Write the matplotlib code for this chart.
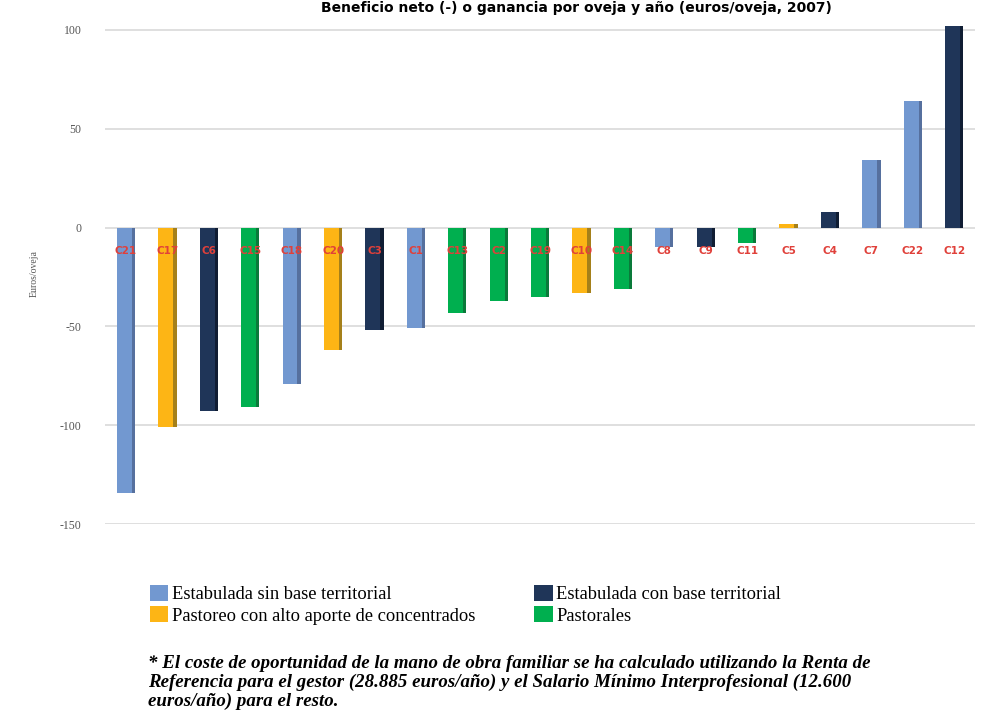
import numpy as np
import matplotlib
matplotlib.use("Agg")
import matplotlib.pyplot as plt
from matplotlib.patches import Patch

# granjas ordenadas de mayor pérdida a mayor ganancia
farms = ["C21", "C17", "C6", "C15", "C18", "C20", "C3", "C1", "C13", "C2", "C19",
         "C10", "C14", "C8", "C9", "C11", "C5", "C4", "C7", "C22", "C12"]
values = [-134, -101, -93, -91, -79, -62, -52, -51, -43, -37, -35,
          -33, -31, -10, -10, -8, 2, 8, 34, 64, 102]
systems = [0, 2, 1, 3, 0, 2, 1, 0, 3, 3, 3,
           2, 3, 0, 1, 3, 2, 1, 0, 0, 1]

system_names = ["Estabulada sin base territorial",
                "Estabulada con base territorial",
                "Pastoreo con alto aporte de concentrados",
                "Pastorales"]
system_colors = ["#7298D0", "#1F3558", "#FDB515", "#00AF4F"]
side_colors = ["#56709E", "#101D33", "#A5801A", "#0A7A3A"]

yticks = [-150, -100, -50, 0, 50, 100]

fig = plt.figure(figsize=(10.03, 7.21), dpi=100)
ax = fig.add_axes([0.105, 0.273, 0.867, 0.694])

x = np.arange(len(farms))
colors = [system_colors[s] for s in systems]
sides = [side_colors[s] for s in systems]

for y in yticks:
    ax.axhline(y, color="#DCDCDC", linewidth=1.3, zorder=0)

ax.bar(x, values, width=0.44, color=colors, zorder=2)
# cara lateral oscura para imitar el efecto 3D
ax.bar(x + 0.18, values, width=0.08, color=sides, zorder=3)

for xi, name in zip(x, farms):
    ax.text(xi, -12, name, ha="center", va="center", fontsize=7.5,
            color="#E0403A", fontweight="bold", zorder=4)

ax.set_xlim(-0.5, len(farms) - 0.5)
ax.set_ylim(-150, 103)
ax.set_yticks(yticks)
ax.set_yticklabels([str(t) for t in yticks], fontsize=8.5, color="#555555",
                   family="Liberation Serif")
ax.set_xticks([])
ax.tick_params(axis="y", length=0, pad=17)
for sp in ax.spines.values():
    sp.set_visible(False)
ax.set_ylabel("Euros/oveja", fontsize=7, color="#555555",
              family="Liberation Serif", labelpad=15)

fig.text(0.575, 0.999, "Beneficio neto (-) o ganancia por oveja y año (euros/oveja, 2007)",
         ha="center", va="top", fontsize=10, fontweight="bold")

handles = [Patch(facecolor=c, edgecolor="none") for c in system_colors]
order = [0, 2, 1, 3]
fig.legend([handles[i] for i in order], [system_names[i] for i in order],
           loc="upper left", bbox_to_anchor=(0.140, 0.202), ncol=2, frameon=False,
           prop={"family": "Liberation Serif", "size": 13.3},
           handlelength=1.0, handleheight=1.0, handletextpad=0.2,
           columnspacing=3.2, labelspacing=0.15, borderpad=0)

note = ("* El coste de oportunidad de la mano de obra familiar se ha calculado utilizando la Renta de\n"
        "Referencia para el gestor (28.885 euros/año) y el Salario Mínimo Interprofesional (12.600\n"
        "euros/año) para el resto.")
fig.text(0.148, 0.053, note, ha="left", va="center", fontsize=13.6,
         family="Liberation Serif", style="italic", fontweight="bold",
         linespacing=1.12)

fig.savefig("out.png", dpi=100)
